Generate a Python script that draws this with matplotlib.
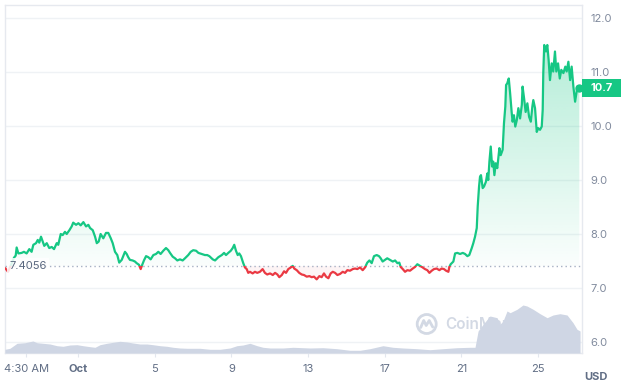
import numpy as np
import matplotlib
matplotlib.use("Agg")
import matplotlib.pyplot as plt
from matplotlib.patches import Rectangle, Circle
from matplotlib.path import Path
from matplotlib.lines import Line2D
import matplotlib.transforms as mtransforms

plt.rcParams['font.family'] = ['Inter', 'DejaVu Sans']

# ---------------- data ----------------
# price: time in days since Oct 1 00:00, price in USD
price_days = [
    -3.78, -3.65, -3.49, -3.34, -3.25, -3.20, -3.11, -2.94, -2.82, -2.68,
    -2.54, -2.42, -2.33, -2.19, -2.10, -2.02, -1.93, -1.84, -1.76, -1.63,
    -1.50, -1.37, -1.25, -1.11, -1.03, -0.90, -0.80, -0.68, -0.59, -0.45,
    -0.33, -0.25, -0.10, 0.02, 0.14, 0.28, 0.42, 0.54, 0.63, 0.77,
    0.89, 0.98, 1.08, 1.18, 1.32, 1.46, 1.58, 1.71, 1.81, 1.93,
    2.05, 2.15, 2.28,
    2.45, 2.54, 2.62, 2.71, 2.85, 2.97, 3.06, 3.18, 3.27, 3.35,
    3.44, 3.55, 3.67, 3.79, 3.93, 4.07, 4.19, 4.31, 4.45, 4.59,
    4.71, 4.80, 4.94, 5.06, 5.18, 5.32, 5.46, 5.58, 5.75, 5.88,
    6.01, 6.16, 6.28, 6.45, 6.62, 6.74, 6.85, 7.03, 7.15, 7.32,
    7.50, 7.62, 7.72, 7.84, 7.97, 8.07, 8.15, 8.24, 8.33, 8.41,
    8.50, 8.62, 8.71, 8.80, 8.88,
    8.97, 9.11, 9.23, 9.35, 9.49, 9.63, 9.75, 9.87, 10.02, 10.16,
    10.28, 10.40, 10.50, 10.63, 10.75, 10.85, 10.97, 11.10, 11.20, 11.28,
    11.41, 11.54, 11.67, 11.79, 11.93, 12.07, 12.19, 12.31, 12.45, 12.59,
    12.71, 12.83, 12.94, 13.06, 13.18, 13.29, 13.41, 13.53, 13.67, 13.81,
    13.93, 14.05, 14.19, 14.33, 14.45, 14.57, 14.71,
    14.85, 14.97, 15.09, 15.20, 15.32, 15.44, 15.58, 15.70, 15.79, 15.89,
    16.01, 16.13, 16.28, 16.42, 16.54, 16.66, 16.76, 16.83, 16.94, 17.06,
    17.18, 17.32, 17.46, 17.58, 17.70, 17.84, 17.98, 18.10, 18.22, 18.33,
    18.45, 18.57, 18.71, 18.85, 18.97, 19.09, 19.20, 19.32, 19.37, 19.44,
    19.58, 19.67, 19.79, 19.93, 20.07, 20.19, 20.31, 20.41, 20.54, 20.62,
    20.71, 20.80,
    20.85, 20.92, 20.97, 21.02, 21.11, 21.18, 21.28, 21.35, 21.40, 21.46,
    21.53, 21.60, 21.66, 21.72, 21.79, 21.87, 21.98, 22.05, 22.15, 22.22,
    22.29, 22.33, 22.39, 22.47, 22.54, 22.62, 22.67, 22.74, 22.81, 22.89,
    22.97, 23.06, 23.15, 23.19, 23.27, 23.35, 23.44, 23.53, 23.62, 23.70,
    23.75, 23.84, 23.93, 24.01, 24.10, 24.19, 24.24, 24.27, 24.32, 24.41,
    24.48, 24.55, 24.62, 24.71, 24.79, 24.88, 24.95, 25.04, 25.13, 25.21,
    25.32, 25.42, 25.49, 25.58, 25.67, 25.75, 25.84, 25.93, 25.98, 26.05,
    26.15,
]
price_usd = [
    7.36, 7.30, 7.43, 7.56, 7.60, 7.75, 7.64, 7.65, 7.67, 7.64,
    7.72, 7.67, 7.80, 7.83, 7.89, 7.84, 7.95, 7.86, 7.78, 7.83,
    7.74, 7.76, 7.72, 7.83, 7.80, 8.00, 7.98, 8.04, 8.00, 8.07,
    8.14, 8.21, 8.17, 8.20, 8.16, 8.22, 8.14, 8.17, 8.11, 8.07,
    7.95, 7.83, 7.86, 8.00, 7.92, 8.02, 8.02, 7.92, 7.83, 7.67,
    7.61, 7.47, 7.52,
    7.67, 7.63, 7.57, 7.52, 7.51, 7.49, 7.46, 7.43, 7.35, 7.43,
    7.51, 7.59, 7.57, 7.53, 7.61, 7.63, 7.67, 7.63, 7.69, 7.74,
    7.70, 7.65, 7.58, 7.55, 7.51, 7.53, 7.51, 7.55, 7.61, 7.67,
    7.70, 7.69, 7.65, 7.63, 7.61, 7.61, 7.59, 7.53, 7.51, 7.57,
    7.61, 7.65, 7.61, 7.65, 7.69, 7.74, 7.80, 7.69, 7.61, 7.64,
    7.59, 7.46, 7.38, 7.35, 7.28,
    7.30, 7.27, 7.30, 7.28, 7.30, 7.35, 7.28, 7.25, 7.27, 7.24,
    7.28, 7.25, 7.20, 7.24, 7.31, 7.28, 7.35, 7.38, 7.41, 7.36,
    7.33, 7.28, 7.25, 7.24, 7.21, 7.22, 7.20, 7.21, 7.16, 7.22,
    7.20, 7.27, 7.21, 7.18, 7.27, 7.30, 7.28, 7.24, 7.26, 7.30,
    7.28, 7.33, 7.32, 7.35, 7.36, 7.35, 7.38,
    7.33, 7.38, 7.47, 7.51, 7.46, 7.59, 7.61, 7.59, 7.55, 7.49,
    7.52, 7.55, 7.52, 7.49, 7.51, 7.46, 7.47, 7.39, 7.35, 7.30,
    7.33, 7.32, 7.36, 7.39, 7.44, 7.41, 7.38, 7.35, 7.33, 7.28,
    7.32, 7.35, 7.36, 7.33, 7.36, 7.35, 7.32, 7.30, 7.39, 7.44,
    7.49, 7.64, 7.65, 7.63, 7.65, 7.63, 7.59, 7.61, 7.74, 7.83,
    7.95, 8.11,
    8.51, 8.88, 9.06, 9.09, 8.85, 8.88, 8.97, 9.12, 9.00, 9.34,
    9.62, 9.25, 9.34, 9.09, 9.31, 9.22, 9.59, 9.46, 9.56, 10.05,
    10.36, 10.76, 10.79, 10.88, 10.61, 10.26, 10.08, 10.20, 9.99, 10.11,
    10.33, 10.14, 10.39, 10.73, 10.51, 10.26, 10.42, 10.17, 10.08, 10.36,
    10.48, 10.33, 9.89, 9.96, 9.93, 9.99, 10.30, 10.98, 11.50, 11.38,
    11.50, 11.22, 10.85, 11.16, 11.01, 11.38, 11.01, 11.16, 10.88, 11.04,
    10.98, 11.10, 11.01, 11.19, 10.85, 11.10, 10.73, 10.45, 10.57, 10.73,
    10.70,
]
# volume: time in days since Oct 1, volume in million USD
volume_days = [
    -3.81, -3.55, -3.18, -2.76, -2.35, -2.14, -1.83, -1.46, -1.10, -0.78,
    -0.42, -0.05, 0.26, 0.63, 0.89, 1.15, 1.51, 1.83, 2.19, 2.56,
    2.87, 3.23, 3.60, 3.91, 4.28, 4.64, 4.96, 5.32, 5.69, 6.36,
    6.89, 7.41, 7.93, 8.29, 8.61, 8.97, 9.34, 9.65, 10.02, 10.69,
    11.22, 12.10, 12.78, 13.51, 14.19, 14.71, 15.23, 15.91, 16.43, 16.95,
    17.68, 18.36, 19.04, 19.77, 20.45, 20.71, 20.87, 21.13, 21.49, 21.86,
    22.01, 22.17, 22.38, 22.54, 22.90, 23.21, 23.42, 23.74, 24.10, 24.47,
    24.78, 25.14, 25.51, 25.82, 26.03, 26.19,
]
volume_musd = [
    3.7, 4.7, 9.7, 10.3, 12.0, 10.3, 9.7, 9.0, 7.3, 6.7,
    8.0, 8.3, 7.3, 6.3, 5.7, 8.3, 9.7, 10.7, 11.7, 11.0,
    10.0, 9.0, 9.0, 8.3, 7.3, 6.7, 5.7, 5.0, 4.7, 4.7,
    3.7, 3.7, 5.0, 7.3, 8.0, 9.7, 7.3, 5.7, 5.0, 5.0,
    5.7, 5.0, 5.3, 4.3, 2.7, 2.7, 4.3, 7.3, 5.7, 5.0,
    4.3, 3.3, 4.3, 5.3, 5.7, 5.7, 22.0, 28.7, 37.0, 35.3,
    28.7, 32.0, 42.0, 40.3, 43.7, 48.0, 47.0, 43.7, 39.3, 35.3,
    38.0, 39.3, 38.0, 30.3, 23.7, 22.0,
]
baseline_price = 7.4056
baseline_label = "7.4056"
last_price_label = "10.7"
y_ticks = [6.0, 7.0, 8.0, 9.0, 10.0, 11.0, 12.0]
x_tick_days = [-2.69, 0, 4, 8, 12, 16, 20, 24]
x_tick_labels = ["4:30 AM", "Oct", "5", "9", "13", "17", "21", "25"]

# ---------------- style ----------------
GREEN = '#16c784'
RED = '#ea3943'
VOL = '#cfd6e4'
GRID = '#eff2f5'
TXT = '#616e85'

W, H = 624, 391
fig = plt.figure(figsize=(W / 100, H / 100), dpi=100)
rect = [5 / W, (H - 353) / H, 577 / W, 348 / H]
ax = fig.add_axes(rect, zorder=0)
vax = fig.add_axes(rect, zorder=1)
vax.patch.set_alpha(0)

xmin, xmax = -3.808, 26.29
ymin, ymax = 5.796, 12.241

t = np.array(price_days)
p = np.array(price_usd)
base = baseline_price

# green gradient fill above baseline
poly = ax.fill_between(t, p, base, where=p >= base, interpolate=True,
                       facecolor='none', edgecolor='none', lw=0)
clip = Path.make_compound_path(*poly.get_paths())
n = 256
grad = np.zeros((n, 1, 4))
g = matplotlib.colors.to_rgb(GREEN)
grad[..., 0], grad[..., 1], grad[..., 2] = g
grad[:, 0, 3] = np.linspace(0.02, 0.32, n)
im = ax.imshow(grad, extent=[xmin, xmax, base, p.max()], origin='lower',
               aspect='auto', zorder=2, interpolation='bilinear')
im.set_clip_path(clip, transform=ax.transData)

# faint red fill below baseline
ax.fill_between(t, p, base, where=p <= base, interpolate=True,
                color=RED, alpha=0.05, lw=0, zorder=2)

# price line, green above baseline, red below
lg, = ax.plot(t, p, color=GREEN, lw=1.6, zorder=4, solid_joinstyle='round')
lg.set_clip_path(Rectangle((xmin, base), xmax - xmin, 20, transform=ax.transData))
lr, = ax.plot(t, p, color=RED, lw=1.6, zorder=4, solid_joinstyle='round')
lr.set_clip_path(Rectangle((xmin, base - 20), xmax - xmin, 20, transform=ax.transData))
ax.plot([t[-1]], [p[-1]], 'o', ms=5, color=GREEN, zorder=5)

# baseline
ax.axhline(base, color='#a6b0c3', lw=1, ls=(0, (1, 2.2)), zorder=3)
blend = mtransforms.blended_transform_factory(ax.transAxes, ax.transData)
ax.text(0.0075, base, baseline_label, transform=blend, ha='left', va='center',
        fontsize=8, color='#58667e', zorder=6,
        bbox=dict(facecolor='white', edgecolor='none', alpha=0.85, pad=2))

# last price tag
ax.add_patch(Rectangle((1.0, p[-1] - 9 / 54), 39 / 577, 18 / 54, transform=blend,
                       facecolor=GREEN, edgecolor='none', clip_on=False, zorder=6))
ax.text(1.0 + 19.5 / 577, p[-1], last_price_label, transform=blend, ha='center',
        va='center', fontsize=8, fontweight='bold', color='white', zorder=7,
        clip_on=False)

# watermark
wm = '#d3d9e4'
ax.add_patch(Circle((4.267, 0.67), 0.095, transform=fig.dpi_scale_trans,
                    facecolor='none', edgecolor=wm, lw=2.0, zorder=1))
ax.add_line(Line2D([4.207, 4.237, 4.262, 4.292, 4.327],
                   [0.635, 0.705, 0.655, 0.705, 0.64],
                   transform=fig.dpi_scale_trans, color=wm, lw=2.0,
                   solid_joinstyle='round', solid_capstyle='round', zorder=1))
ax.text(4.455, 0.665, "CoinMarketCap", transform=fig.dpi_scale_trans,
        ha='left', va='center', fontsize=11, color=wm, fontweight='semibold', zorder=1)

# axes styling
ax.set_xlim(xmin, xmax)
ax.set_ylim(ymin, ymax)
ax.set_yticks(y_ticks)
ax.set_yticklabels([f"{v:.1f}" for v in y_ticks])
ax.yaxis.tick_right()
ax.grid(axis='y', color=GRID, lw=1, zorder=0)
ax.set_axisbelow(True)
ax.tick_params(axis='y', length=0, pad=6, labelsize=8, labelcolor='#808a9d')
ax.set_xticks(x_tick_days)
ax.set_xticklabels(x_tick_labels)
ax.tick_params(axis='x', length=3, color='#e3e7ee', pad=5, labelsize=8,
               labelcolor=TXT)
ax.get_xticklabels()[1].set_fontweight('bold')
for s in ax.spines.values():
    s.set_color('#e6e9ef')
    s.set_linewidth(1)

# volume
vax.fill_between(volume_days, volume_musd, 0, color=VOL, lw=0, zorder=2)
vax.set_xlim(xmin, xmax)
vax.set_ylim(0, max(volume_musd) * 7.25)
vax.set_xticks([])
vax.set_yticks([])
for s in vax.spines.values():
    s.set_visible(False)

fig.text(596 / W, 1 - 377 / H, "USD", ha='center', va='center', fontsize=8,
         fontweight='bold', color=TXT)

fig.savefig("out.png", dpi=100)
